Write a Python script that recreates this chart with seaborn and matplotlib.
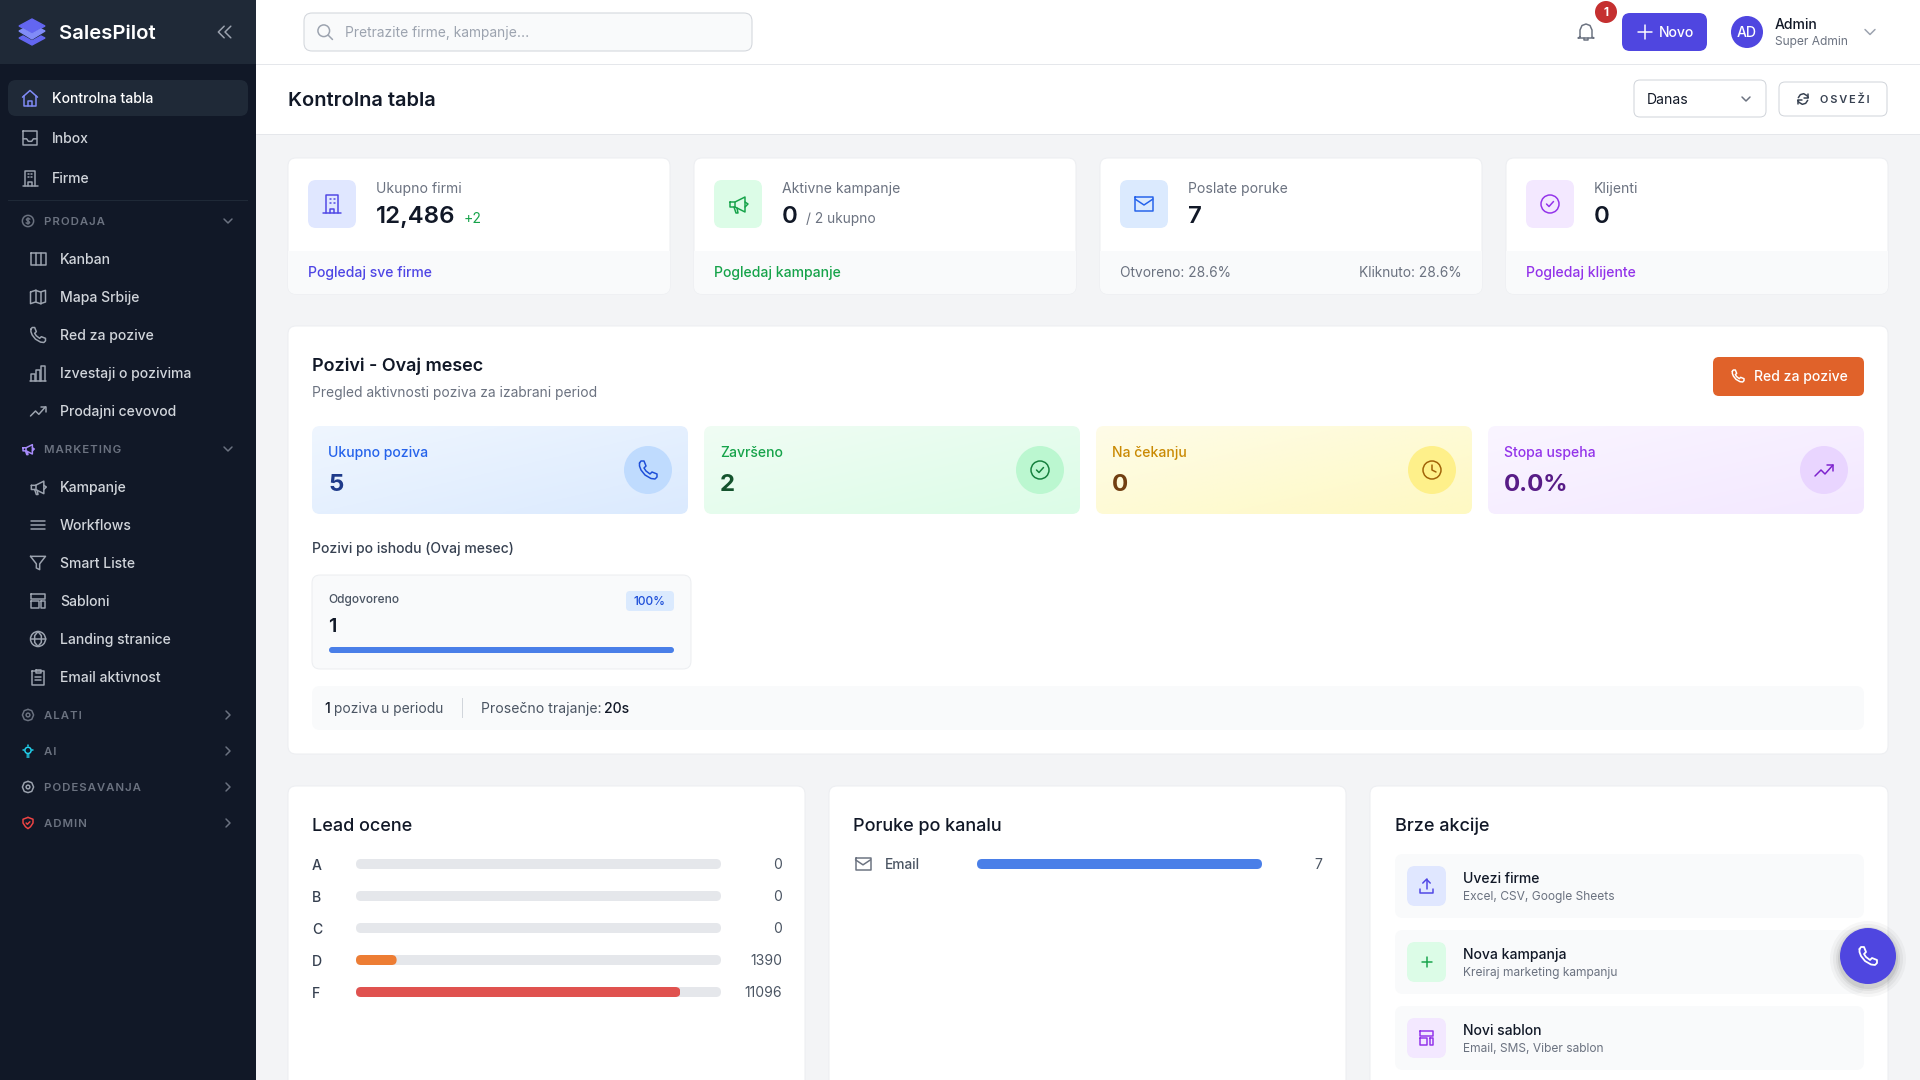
import numpy as np
import matplotlib
matplotlib.use("Agg")
import matplotlib.pyplot as plt
import seaborn as sns
from matplotlib.colors import LinearSegmentedColormap
from matplotlib.patches import Circle, FancyBboxPatch, Rectangle
from matplotlib.transforms import IdentityTransform

# data
grades = ["A", "B", "C", "D", "F"]
grade_values = [0, 0, 0, 1390, 11096]
grade_total = 12486
grade_colors = ["#e5e7eb", "#e5e7eb", "#e5e7eb", "#ed7d34", "#e0524f"]
channels = ["Email"]
channel_values = [7]
outcomes = ["Odgovoreno"]
outcome_values = [1]

stat_labels = ["Ukupno poziva", "Završeno", "Na čekanju", "Stopa uspeha"]
stat_values = ["5", "2", "0", "0.0%"]
stat_icons = ["phone", "check", "clock", "trend"]

top_labels = ["Ukupno firmi", "Aktivne kampanje", "Poslate poruke", "Klijenti"]
top_values = ["12,486", "0", "7", "0"]
top_icons = ["building", "mega", "mail", "check"]

main_items = [("Kontrolna tabla", "home", 98), ("Inbox", "inbox", 138), ("Firme", "building", 178)]
sub_items = [("Kanban", "kanban", 259), ("Mapa Srbije", "map", 297), ("Red za pozive", "phone", 335),
             ("Izvestaji o pozivima", "bars", 373), ("Prodajni cevovod", "trend", 411),
             ("Kampanje", "mega", 487), ("Workflows", "list", 525), ("Smart Liste", "funnel", 563),
             ("Sabloni", "template", 601), ("Landing stranice", "globe", 639), ("Email aktivnost", "clipboard", 677)]
sections = [("PRODAJA", "dollar", 221, "#6b7280", "chev_d"), ("MARKETING", "mega", 449, "#a78bfa", "chev_d"),
            ("ALATI", "gear", 715, "#6b7280", "chev_r"), ("AI", "bulb", 751, "#22d3ee", "chev_r"),
            ("PODESAVANJA", "gear", 787, "#9ca3af", "chev_r"), ("ADMIN", "shield", 823, "#ef4444", "chev_r")]
actions = [("Uvezi firme", "Excel, CSV, Google Sheets", "upload"),
           ("Nova kampanja", "Kreiraj marketing kampanju", "plus"),
           ("Novi sablon", "Email, SMS, Viber sablon", "template")]

ICONS = {
    "home": [[(3, 11), (12, 3), (21, 11)], [(5, 9.5), (5, 21), (19, 21), (19, 9.5)], [(10, 21), (10, 15), (14, 15), (14, 21)]],
    "inbox": [[(4, 4), (20, 4), (20, 20), (4, 20), (4, 4)], [(4, 13), (8, 13), (10, 16), (14, 16), (16, 13), (20, 13)]],
    "building": [[(6, 21), (6, 3), (18, 3), (18, 21)], [(3, 21), (21, 21)], [(10, 21), (10, 17), (14, 17), (14, 21)],
                 [(9.5, 7), (10.5, 7)], [(13.5, 7), (14.5, 7)], [(9.5, 11), (10.5, 11)], [(13.5, 11), (14.5, 11)]],
    "dollar": [("c", 12, 12, 9), [(15, 9), (13, 8), (11, 8), (9.5, 9.5), (11, 11.7), (13, 12.3), (14.5, 14.5), (13, 16), (11, 16), (9, 15)], [(12, 6.5), (12, 17.5)]],
    "kanban": [[(3, 5), (21, 5), (21, 19), (3, 19), (3, 5)], [(9, 5), (9, 19)], [(15, 5), (15, 19)]],
    "map": [[(3, 6), (9, 4), (15, 6), (21, 4), (21, 18), (15, 20), (9, 18), (3, 20), (3, 6)], [(9, 4), (9, 18)], [(15, 6), (15, 20)]],
    "phone": [[(3.5, 5), (5, 3), (8, 3), (10, 8), (8, 10), (10, 13), (14, 16), (16, 14), (21, 16), (21, 19), (19, 21), (15, 20.5), (9, 17), (5, 12), (3.5, 8), (3.5, 5)]],
    "bars": [[(4, 21), (4, 13), (8, 13), (8, 21)], [(10, 21), (10, 8), (14, 8), (14, 21)], [(16, 21), (16, 3), (20, 3), (20, 21)], [(2, 21), (22, 21)]],
    "trend": [[(3, 18), (9, 12), (13, 16), (21, 7)], [(15, 7), (21, 7), (21, 13)]],
    "mega": [[(4, 10), (4, 15), (9, 15), (19, 20), (19, 5), (9, 10), (4, 10)], [(8, 15), (10, 21), (12, 21), (11, 16)], [(9, 10), (9, 15)], [(19, 10), (22, 12), (19, 15)]],
    "list": [[(4, 7), (20, 7)], [(4, 12), (20, 12)], [(4, 17), (20, 17)]],
    "funnel": [[(3, 4), (21, 4), (14, 13), (14, 20), (10, 18), (10, 13), (3, 4)]],
    "template": [[(4, 4), (20, 4), (20, 9), (4, 9), (4, 4)], [(4, 12), (13, 12), (13, 20), (4, 20), (4, 12)], [(16, 12), (20, 12), (20, 20), (16, 20), (16, 12)]],
    "globe": [("c", 12, 12, 9), [(3, 12), (21, 12)], [(12, 3), (8, 8), (8, 16), (12, 21), (16, 16), (16, 8), (12, 3)]],
    "clipboard": [[(5, 5), (19, 5), (19, 21), (5, 21), (5, 5)], [(9, 3), (15, 3), (15, 7), (9, 7), (9, 3)], [(8, 12), (16, 12)], [(8, 16), (16, 16)]],
    "gear": [("c", 12, 12, 3), [(12, 3), (18, 5), (21, 12), (18, 19), (12, 21), (6, 19), (3, 12), (6, 5), (12, 3)]],
    "bulb": [("c", 12, 11, 5), [(10, 18), (14, 18)], [(10.5, 21), (13.5, 21)], [(12, 2), (12, 4)], [(4, 11), (6, 11)], [(18, 11), (20, 11)]],
    "shield": [[(12, 3), (20, 6), (20, 12), (16, 18), (12, 21), (8, 18), (4, 12), (4, 6), (12, 3)], [(9, 12), (11, 14), (15, 10)]],
    "mail": [[(3, 5), (21, 5), (21, 19), (3, 19), (3, 5)], [(3, 7), (12, 13), (21, 7)]],
    "check": [("c", 12, 12, 9), [(8.5, 12), (11, 14.5), (15.5, 9.5)]],
    "clock": [("c", 12, 12, 9), [(12, 7), (12, 12), (16, 14)]],
    "upload": [[(4, 15), (4, 20), (20, 20), (20, 15)], [(12, 16), (12, 4)], [(7.5, 8.5), (12, 4), (16.5, 8.5)]],
    "plus": [[(12, 4), (12, 20)], [(4, 12), (20, 12)]],
    "search": [("c", 10.5, 10.5, 7), [(16, 16), (21, 21)]],
    "bell": [[(6, 17), (6, 10), (8, 5.5), (12, 4), (16, 5.5), (18, 10), (18, 17), (20, 18), (4, 18), (6, 17)], [(10, 18), (10, 20), (14, 20), (14, 18)]],
    "refresh": [[(5, 10), (8, 5.5), (13, 4), (18, 7), (20, 10)], [(20, 4), (20, 10), (14, 10)], [(19, 14), (16, 18.5), (11, 20), (6, 17), (4, 14)], [(4, 20), (4, 14), (10, 14)]],
    "chev_d": [[(6, 9), (12, 15), (18, 9)]],
    "chev_r": [[(9, 6), (15, 12), (9, 18)]],
    "chevs_l": [[(11, 5), (4, 12), (11, 19)], [(19, 5), (12, 12), (19, 19)]],
}

sns.set_theme(style="white")
plt.rcParams["font.family"] = ["Inter", "DejaVu Sans"]

fig = plt.figure(figsize=(19.2, 10.8), dpi=100, facecolor="#f3f4f6")
ax = fig.add_axes([0, 0, 1, 1])
ax.set_xlim(0, 1920)
ax.set_ylim(1080, 0)
ax.axis("off")
ax.autoscale(False)


def box(x0, y0, x1, y1, fc, r=0, ec="none", lw=0.72, z=1, clip=None):
    if r:
        p = FancyBboxPatch((x0 + r, y0 + r), x1 - x0 - 2 * r, y1 - y0 - 2 * r,
                           boxstyle=f"round,pad={r},rounding_size={r}", fc=fc, ec=ec, lw=lw, zorder=z)
    else:
        p = Rectangle((x0, y0), x1 - x0, y1 - y0, fc=fc, ec=ec, lw=lw, zorder=z)
    ax.add_patch(p)
    if clip is not None:
        p.set_clip_path(clip)
    return p


def txt(x, y, s, size=14, color="#111827", w="normal", ha="left", z=6):
    # y is the visual middle of the line, like a css centered row
    return ax.text(x, y + 0.35 * size, s, fontsize=size * 0.72, color=color, fontweight=w, ha=ha, va="baseline", zorder=z)


def icon(name, cx, cy, size=20, color="#9ca3af", lw=1.5, z=6):
    k = size / 24
    for part in ICONS[name]:
        if part[0] == "c":
            ax.add_patch(Circle((cx + (part[1] - 12) * k, cy + (part[2] - 12) * k), part[3] * k,
                                fc="none", ec=color, lw=lw * 0.72, zorder=z))
        else:
            pts = np.array(part)
            ax.plot(cx + (pts[:, 0] - 12) * k, cy + (pts[:, 1] - 12) * k, color=color, lw=lw * 0.72,
                    solid_capstyle="round", solid_joinstyle="round", zorder=z)


def bar_axes(x0, y0, x1, y1):
    a = fig.add_axes([x0 / 1920, 1 - y1 / 1080, (x1 - x0) / 1920, (y1 - y0) / 1080])
    a.patch.set_alpha(0)
    return a


def round_bars(a, r):
    for b in a.patches:
        if b.get_width() <= 0:
            continue
        bb = b.get_window_extent()
        clip = FancyBboxPatch((bb.x0 + r, bb.y0 + r), bb.width - 2 * r, bb.height - 2 * r,
                              boxstyle=f"round,pad={r},rounding_size={r}", transform=IdentityTransform())
        b.set_clip_path(clip)


def clean(a):
    sns.despine(ax=a, left=True, bottom=True)
    a.set_xlabel("")
    a.set_ylabel("")
    a.set_xticks([])
    a.tick_params(axis="y", length=0)


# sidebar
box(0, 0, 256, 1080, "#111827")
box(0, 0, 256, 64, "#1f2937")
ax.fill([32, 45, 32, 19], [19, 26, 33, 26], color="#6366f1", zorder=5)
ax.fill([19, 23, 32, 41, 45, 32], [31, 29, 34, 29, 31, 39], color="#818cf8", zorder=5)
ax.fill([19, 23, 32, 41, 45, 32], [38, 36, 41, 36, 38, 45], color="#6366f1", zorder=5)
txt(59.5, 32, "SalesPilot", 20.3, "white", "semibold")
icon("chevs_l", 225, 32, 20, "#9ca3af")

box(8, 80, 248, 116, "#1f2937", r=8)
for i, (label, ic, y) in enumerate(main_items):
    icon(ic, 30, y, 20, "#818cf8" if i == 0 else "#9ca3af")
    txt(52, y, label, 14, "white" if i == 0 else "#d1d5db", "medium")
box(8, 200, 248, 201, "#1f2937")
for label, ic, y in sub_items:
    icon(ic, 38, y, 20, "#9ca3af")
    txt(60, y, label, 14, "#d1d5db", "medium")
for label, ic, y, col, chev in sections:
    icon(ic, 28, y, 15, col)
    txt(44, y, "\u200a".join(label), 11.4, "#6b7280", "semibold")
    icon(chev, 228, y, 16, "#6b7280")

# top bar and title bar
box(256, 0, 1920, 64, "white")
box(256, 64, 1920, 65, "#e5e7eb", z=2)
box(256, 65, 1920, 134, "white")
box(256, 134, 1920, 135, "#e5e7eb", z=2)
box(304, 13, 752, 51, "#f9fafb", r=8, ec="#d1d5db")
icon("search", 325, 32, 20, "#9ca3af")
txt(345, 32, "Pretrazite firme, kampanje...", 13.8, "#9ca3af")
icon("bell", 1586, 32, 24, "#6b7280")
ax.add_patch(Circle((1606, 12), 11, fc="#c53030", ec="none", zorder=5))
txt(1606, 12, "1", 12, "white", "bold", ha="center")
box(1622, 13, 1707, 51, "#4f46e0", r=8)
icon("plus", 1645, 32, 20, "white")
txt(1659, 32, "Novo", 14, "white", "medium")
ax.add_patch(Circle((1747, 32), 16, fc="#4f46e0", ec="none", zorder=5))
txt(1747, 32, "AD", 14, "white", "medium", ha="center")
txt(1775, 24, "Admin", 14, "#111827", "medium")
txt(1775, 41, "Super Admin", 12, "#6b7280")
icon("chev_d", 1870, 32, 20, "#9ca3af")

txt(288, 99, "Kontrolna tabla", 20, "#111827", "semibold")
box(1634, 80, 1766, 117, "white", r=6, ec="#d1d5db")
txt(1647, 99, "Danas", 14, "#111827")
icon("chev_d", 1746, 99, 16, "#6b7280")
box(1779, 82, 1887, 116, "white", r=6, ec="#d1d5db")
icon("refresh", 1803, 99, 16, "#374151")
txt(1820, 99, "\u2009".join("OSVEŽI"), 11, "#374151", "semibold")

# top cards
card_x = [(288, 670), (694, 1076), (1100, 1482), (1506, 1888)]
card_bg = ["#e0e7ff", "#dcfce7", "#dbeafe", "#f3e8ff"]
card_fg = ["#4f46e5", "#16a34a", "#2563eb", "#9333ea"]
for i, (x0, x1) in enumerate(card_x):
    card = box(x0, 158, x1, 294, "white", r=8, ec="#eceef1")
    box(x0, 251, x1, 294, "#f9fafb", z=2, clip=card)
    box(x0 + 20, 180, x0 + 68, 228, card_bg[i], r=8, z=3)
    icon(top_icons[i], x0 + 44, 204, 24, card_fg[i])
    txt(x0 + 88, 188, top_labels[i], 14, "#6b7280")
    txt(x0 + 88, 215, top_values[i], 24, "#111827", "semibold")
txt(464, 218, "+2", 14, "#16a34a")
txt(806, 218, "/ 2 ukupno", 13.8, "#6b7280")
txt(308, 272, "Pogledaj sve firme", 14, "#4f46e5", "medium")
txt(714, 272, "Pogledaj kampanje", 14, "#16a34a", "medium")
txt(1120, 272, "Otvoreno: 28.6%", 13.7, "#6b7280")
txt(1462, 272, "Kliknuto: 28.6%", 13.7, "#6b7280", ha="right")
txt(1526, 272, "Pogledaj klijente", 14, "#9333ea", "medium")

# calls panel
box(288, 326, 1888, 754, "white", r=8, ec="#eceef1")
txt(312, 365, "Pozivi - Ovaj mesec", 18, "#111827", "semibold")
txt(312, 392, "Pregled aktivnosti poziva za izabrani period", 13.8, "#6b7280")
box(1713, 357, 1864, 396, "#e0622a", r=6)
icon("phone", 1738, 376, 16, "white")
txt(1754, 376, "Red za pozive", 14, "white", "medium")

stat_x = [(312, 688), (704, 1080), (1096, 1472), (1488, 1864)]
stat_from = ["#eff6ff", "#f0fdf4", "#fefce8", "#faf5ff"]
stat_to = ["#dbeafe", "#dcfce7", "#fef9c3", "#f3e8ff"]
stat_label_col = ["#2563eb", "#16a34a", "#ca8a04", "#9333ea"]
stat_value_col = ["#1e3a8a", "#14532d", "#713f12", "#581c87"]
stat_circle = ["#bfdbfe", "#bbf7d0", "#fef08a", "#e9d5ff"]
stat_icon_col = ["#1d4ed8", "#15803d", "#a16207", "#7e22ce"]
ramp = np.add.outer(np.linspace(0, 0.5, 60), np.linspace(0, 0.5, 120))
for i, (x0, x1) in enumerate(stat_x):
    shape = box(x0, 426, x1, 514, "none", r=8, z=2)
    cmap = LinearSegmentedColormap.from_list("g", [stat_from[i], stat_to[i]])
    im = ax.imshow(ramp, extent=[x0, x1, 514, 426], aspect="auto", cmap=cmap, vmin=0, vmax=1, zorder=2)
    im.set_clip_path(shape)
    txt(x0 + 16, 452, stat_labels[i], 14, stat_label_col[i], "medium")
    txt(x0 + 16, 483, stat_values[i], 24, stat_value_col[i], "bold")
    ax.add_patch(Circle((x0 + 336, 470), 24, fc=stat_circle[i], ec="none", zorder=5))
    icon(stat_icons[i], x0 + 336, 470, 24, stat_icon_col[i])
ax.set_xlim(0, 1920)
ax.set_ylim(1080, 0)

txt(312, 548, "Pozivi po ishodu (Ovaj mesec)", 14, "#374151", "medium")
box(312, 575, 691, 669, "#f9fafb", r=8, ec="#eceef1")
txt(328.5, 599, outcomes[0], 12, "#4b5563", "medium")
box(626, 591, 674, 611, "#dbeafe", r=4, z=3)
txt(650, 601, "100%", 12, "#1d4ed8", "medium", ha="center")
txt(328.5, 625, "1", 20, "#111827", "semibold")
out_ax = bar_axes(329, 647, 674, 653)
sns.barplot(x=outcome_values, y=outcomes, color="#4a7fe8", saturation=1, width=1, linewidth=0, ax=out_ax)
out_ax.set_xlim(0, 1)
clean(out_ax)
out_ax.set_yticks([])
round_bars(out_ax, 3)

box(312, 686, 1864, 730, "#f9fafb", r=8)
txt(324, 708, "1", 14, "#111827", "medium")
txt(333.5, 708, "poziva u periodu", 13.8, "#4b5563")
box(462, 698, 463, 718, "#d1d5db", z=3)
txt(481, 708, "Prosečno trajanje:", 14, "#4b5563")
txt(604, 708, "20s", 14, "#111827", "medium")

# bottom panels
for x0, x1 in [(288, 805), (829, 1346), (1370, 1888)]:
    box(x0, 786, x1, 1100, "white", r=8, ec="#eceef1")
txt(312, 825, "Lead ocene", 18, "#111827", "medium")
txt(853, 825, "Poruke po kanalu", 18, "#111827", "medium")
txt(1395, 825, "Brze akcije", 18, "#111827", "medium")

lead_ax = bar_axes(356, 848, 721, 1008)
sns.barplot(x=[grade_total] * len(grades), y=grades, color="#e5e7eb", saturation=1, width=0.3125, linewidth=0, ax=lead_ax)
sns.barplot(x=grade_values, y=grades, hue=grades, palette=grade_colors, saturation=1, width=0.3125,
            linewidth=0, legend=False, dodge=False, ax=lead_ax)
lead_ax.set_xlim(0, grade_total)
lead_ax.set_ylim(len(grades) - 0.5, -0.5)
clean(lead_ax)
lead_ax.tick_params(axis="y", pad=44 * 0.72)
for lab in lead_ax.get_yticklabels():
    lab.set_ha("left")
    lab.set_fontsize(14 * 0.72)
    lab.set_fontweight("medium")
    lab.set_color("#374151")
    lab.set_y(lab.get_position()[1])
for i, v in enumerate(grade_values):
    lead_ax.annotate(str(v), xy=(1, i), xycoords=lead_ax.get_yaxis_transform(), xytext=(61 * 0.72, 0.7),
                     textcoords="offset points", ha="right", va="center_baseline", fontsize=14 * 0.72, color="#4b5563")
round_bars(lead_ax, 5)

msg_ax = bar_axes(977, 848, 1262, 880)
sns.barplot(x=channel_values, y=channels, color="#4a7fe8", saturation=1, width=0.3125, linewidth=0, ax=msg_ax)
msg_ax.set_xlim(0, max(channel_values))
clean(msg_ax)
msg_ax.set_yticks([])
round_bars(msg_ax, 5)
icon("mail", 863, 864, 20, "#6b7280")
txt(885, 864, channels[0], 13.8, "#4b5563", "medium")
txt(1322, 864, str(channel_values[0]), 14, "#4b5563", ha="right")

action_bg = ["#e0e7ff", "#dcfce7", "#f3e8ff"]
action_fg = ["#4f46e5", "#16a34a", "#9333ea"]
action_size = [20, 15, 20]
for i, (title, sub, ic) in enumerate(actions):
    y0 = 854 + 76 * i
    box(1395, y0, 1864, y0 + 64, "#f9fafb", r=8, z=2)
    box(1407, y0 + 12, 1446, y0 + 52, action_bg[i], r=8, z=3)
    icon(ic, 1426.5, y0 + 32, action_size[i], action_fg[i])
    txt(1463, y0 + 24, title, 14, "#111827", "medium")
    txt(1463, y0 + 42, sub, 12, "#6b7280")

# floating call button, on top of everything
for grow, alpha in [(10, 0.03), (7, 0.04), (4, 0.05), (2, 0.07)]:
    ax.add_patch(Circle((1868, 959), 28 + grow, fc="black", ec="none", alpha=alpha, zorder=7))
ax.add_patch(Circle((1868, 956), 28, fc="#4f46e0", ec="none", zorder=8))
icon("phone", 1868, 956, 24, "white", lw=1.8, z=9)

fig.savefig("out.png", dpi=100, facecolor=fig.get_facecolor())
